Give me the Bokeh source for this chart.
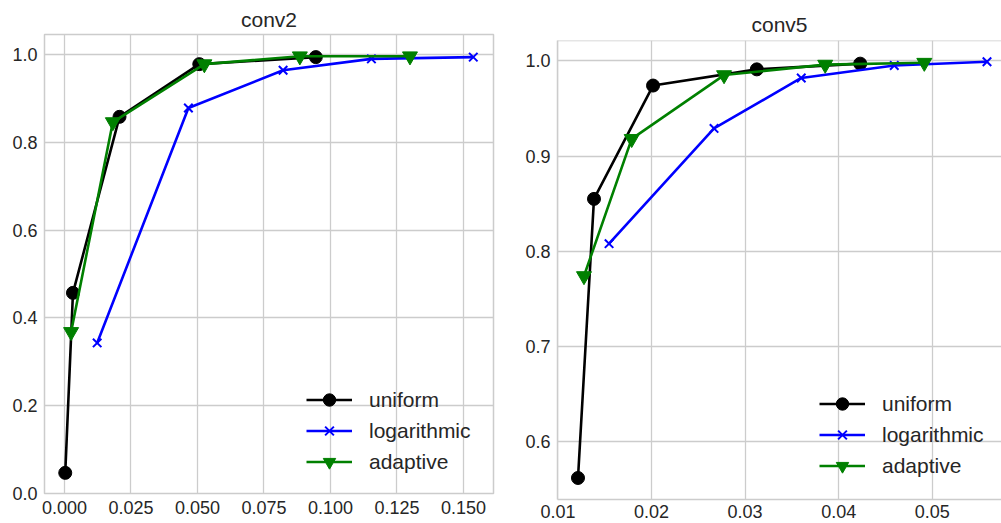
from bokeh.plotting import figure
from bokeh.layouts import row
from bokeh.models import Range1d, FixedTicker, NumeralTickFormatter, Legend, LegendItem, Span
from bokeh.embed import file_html
from bokeh.resources import INLINE

# ---------------- data ----------------
series_names = ["uniform", "logarithmic", "adaptive"]

conv2_uniform_x = [0.0003, 0.0032, 0.0207, 0.0507, 0.0945]
conv2_uniform_y = [0.047, 0.457, 0.858, 0.978, 0.994]
conv2_log_x = [0.0123, 0.0466, 0.0822, 0.1154, 0.1537]
conv2_log_y = [0.343, 0.878, 0.964, 0.990, 0.994]
conv2_adaptive_x = [0.0025, 0.0182, 0.0526, 0.0885, 0.1299]
conv2_adaptive_y = [0.368, 0.846, 0.978, 0.996, 0.996]

conv5_uniform_x = [0.01214, 0.01385, 0.02016, 0.03125, 0.0423]
conv5_uniform_y = [0.562, 0.855, 0.974, 0.991, 0.997]
conv5_log_x = [0.01546, 0.02668, 0.0360, 0.04594, 0.05585]
conv5_log_y = [0.808, 0.929, 0.982, 0.995, 0.999]
conv5_adaptive_x = [0.01278, 0.01788, 0.02775, 0.03856, 0.04915]
conv5_adaptive_y = [0.774, 0.918, 0.985, 0.996, 0.998]

conv2_xticks = [0.0, 0.025, 0.05, 0.075, 0.1, 0.125, 0.15]
conv2_yticks = [0.0, 0.2, 0.4, 0.6, 0.8, 1.0]
conv5_xticks = [0.01, 0.02, 0.03, 0.04, 0.05]
conv5_yticks = [0.6, 0.7, 0.8, 0.9, 1.0]

conv2_xrange = (-0.0075, 0.1613)
conv2_yrange = (0.0, 1.0455)
conv5_xrange = (0.00995, 0.0574)
conv5_yrange = (0.5394, 1.0213)

FONT = "Liberation Sans"
TXT = "#262626"
GRID = "#cccccc"


def make_panel(title, xs, ys, xticks, yticks, xr, yr, xfmt, width, mbl, mbr, mbt, mbb,
               title_standoff, x_standoff, legend_loc, full_outline):
    p = figure(width=width, height=523, output_backend="svg", toolbar_location=None,
               x_range=Range1d(*xr), y_range=Range1d(*yr), frame_align=False,
               min_border_left=mbl, min_border_right=mbr, min_border_top=mbt, min_border_bottom=mbb)
    p.title.text = title
    p.title.align = "center"
    p.title.text_font = FONT
    p.title.text_font_size = "21px"
    p.title.text_font_style = "normal"
    p.title.text_color = TXT
    p.title.standoff = title_standoff
    p.background_fill_color = "white"
    p.border_fill_color = "white"

    for ax in (p.xaxis[0], p.yaxis[0]):
        ax.major_tick_line_color = None
        ax.minor_tick_line_color = None
        ax.major_tick_out = 0
        ax.major_tick_in = 0
        ax.minor_tick_out = 0
        ax.minor_tick_in = 0
        ax.major_label_text_font = FONT
        ax.major_label_text_font_size = "18px"
        ax.major_label_text_color = TXT
    p.xaxis[0].ticker = FixedTicker(ticks=xticks)
    p.yaxis[0].ticker = FixedTicker(ticks=yticks)
    p.xaxis[0].formatter = NumeralTickFormatter(format=xfmt)
    p.yaxis[0].formatter = NumeralTickFormatter(format="0.0")
    p.xaxis[0].major_label_standoff = x_standoff
    p.yaxis[0].major_label_standoff = 7

    p.xgrid.ticker = FixedTicker(ticks=xticks)
    p.ygrid.ticker = FixedTicker(ticks=yticks)
    p.grid.grid_line_color = GRID
    p.grid.grid_line_width = 1.3

    if full_outline:
        p.outline_line_color = GRID
        p.outline_line_width = 1.5
        p.xaxis[0].axis_line_color = None
        p.yaxis[0].axis_line_color = None
    else:
        p.outline_line_color = None
        p.xaxis[0].axis_line_color = GRID
        p.yaxis[0].axis_line_color = GRID
        p.xaxis[0].axis_line_width = 1.5
        p.yaxis[0].axis_line_width = 1.5
        p.add_layout(Span(location=yr[1], dimension="width", line_color=GRID, line_width=1.5))

    colors = ["black", "blue", "green"]
    items = []
    for i, name in enumerate(series_names):
        x, y = xs[i], ys[i]
        ln = p.line(x, y, line_color=colors[i], line_width=2.6)
        if i == 0:
            mk = p.scatter(x, y, marker="circle", size=13, fill_color=colors[i], line_color=colors[i])
        elif i == 1:
            mk = p.scatter(x, y, marker="x", size=12, line_color=colors[i], line_width=2)
        else:
            mk = p.scatter(x, y, marker="inverted_triangle", size=15, fill_color=colors[i], line_color=colors[i])
        items.append(LegendItem(label=name, renderers=[ln, mk]))

    leg = Legend(items=items, location=legend_loc, padding=0, margin=0, spacing=0,
                 glyph_width=46, glyph_height=31, label_height=31, label_standoff=17,
                 label_text_font=FONT, label_text_font_size="21px", label_text_color=TXT,
                 background_fill_alpha=0, border_line_color=None)
    p.add_layout(leg, "center")
    return p


p1 = make_panel("conv2",
                [conv2_uniform_x, conv2_log_x, conv2_adaptive_x],
                [conv2_uniform_y, conv2_log_y, conv2_adaptive_y],
                conv2_xticks, conv2_yticks, conv2_xrange, conv2_yrange, "0.000",
                width=510, mbl=44, mbr=17, mbt=34, mbb=30, title_standoff=8, x_standoff=7,
                legend_loc=(262, 16), full_outline=True)
p2 = make_panel("conv5",
                [conv5_uniform_x, conv5_log_x, conv5_adaptive_x],
                [conv5_uniform_y, conv5_log_y, conv5_adaptive_y],
                conv5_xticks, conv5_yticks, conv5_xrange, conv5_yrange, "0.00",
                width=491, mbl=47, mbr=0, mbt=40, mbb=24, title_standoff=10, x_standoff=5,
                legend_loc=(262, 18), full_outline=False)

layout = row(p1, p2)
open("out.html", "w").write(file_html(layout, INLINE))
